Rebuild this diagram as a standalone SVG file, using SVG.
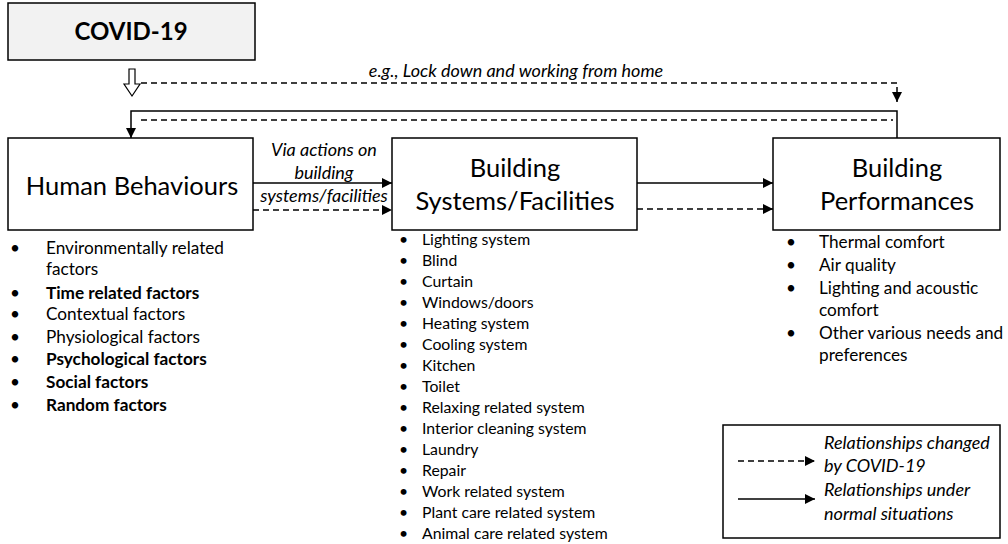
<svg xmlns="http://www.w3.org/2000/svg" width="1008" height="544" viewBox="0 0 1008 544">
<style>
text{font-family:Lato,"Open Sans","Liberation Sans",sans-serif;fill:#000}
.box{fill:#fff;stroke:#000;stroke-width:1.5}
.title{font-size:25.5px;text-anchor:middle}
.it{font-style:italic;font-size:18px}
.li{font-size:17.2px}
.b{font-weight:bold}
.sl{fill:none;stroke:#000;stroke-width:1.5}
.dl{fill:none;stroke:#000;stroke-width:1.5;stroke-dasharray:6,4}
</style>
<defs>
<marker id="ah" viewBox="0 0 10 10" refX="10" refY="5" markerWidth="10" markerHeight="10" markerUnits="userSpaceOnUse" orient="auto">
<path d="M0,0L10,5L0,10z" fill="#000"/>
</marker>
</defs>
<g id="covid">
<rect x="8" y="3" width="247" height="57" fill="#f2f2f2" stroke="#000" stroke-width="1.5"/>
<text x="131" y="40" class="b" font-size="24" text-anchor="middle">COVID-19</text>
</g>
<g id="human">
<rect class="box" x="8" y="138" width="245" height="92"/>
<text x="132" y="195" class="title">Human Behaviours</text>
<g class="li">
<text x="10" y="254">•</text><text x="46" y="254">Environmentally related</text>
<text x="46" y="275">factors</text>
<text x="10" y="299">•</text><text x="46" y="299" class="b">Time related factors</text>
<text x="10" y="320">•</text><text x="46" y="320">Contextual factors</text>
<text x="10" y="343">•</text><text x="46" y="343">Physiological factors</text>
<text x="10" y="365">•</text><text x="46" y="365" class="b">Psychological factors</text>
<text x="10" y="388">•</text><text x="46" y="388" class="b">Social factors</text>
<text x="10" y="411">•</text><text x="46" y="411" class="b">Random factors</text>
</g>
</g>
<g id="systems">
<rect class="box" x="392" y="138" width="245" height="92"/>
<text x="515" y="177" class="title">Building</text>
<text x="515" y="210" class="title">Systems/Facilities</text>
<g font-size="15.8px">
<text x="399" y="245">•</text><text x="422" y="245">Lighting system</text>
<text x="399" y="266">•</text><text x="422" y="266">Blind</text>
<text x="399" y="287">•</text><text x="422" y="287">Curtain</text>
<text x="399" y="308">•</text><text x="422" y="308">Windows/doors</text>
<text x="399" y="329">•</text><text x="422" y="329">Heating system</text>
<text x="399" y="350">•</text><text x="422" y="350">Cooling system</text>
<text x="399" y="371">•</text><text x="422" y="371">Kitchen</text>
<text x="399" y="392">•</text><text x="422" y="392">Toilet</text>
<text x="399" y="413">•</text><text x="422" y="413">Relaxing related system</text>
<text x="399" y="434">•</text><text x="422" y="434">Interior cleaning system</text>
<text x="399" y="455">•</text><text x="422" y="455">Laundry</text>
<text x="399" y="476">•</text><text x="422" y="476">Repair</text>
<text x="399" y="497">•</text><text x="422" y="497">Work related system</text>
<text x="399" y="518">•</text><text x="422" y="518">Plant care related system</text>
<text x="399" y="539">•</text><text x="422" y="539">Animal care related system</text>
</g>
</g>
<g id="performances">
<rect class="box" x="773" y="138" width="227" height="92"/>
<text x="897" y="177" class="title">Building</text>
<text x="897" y="210" class="title">Performances</text>
<g class="li">
<text x="786" y="248">•</text><text x="819" y="248">Thermal comfort</text>
<text x="786" y="271">•</text><text x="819" y="271">Air quality</text>
<text x="786" y="294">•</text><text x="819" y="294">Lighting and acoustic</text>
<text x="819" y="316">comfort</text>
<text x="786" y="339">•</text><text x="819" y="339">Other various needs and</text>
<text x="819" y="361">preferences</text>
</g>
</g>
<g id="legend">
<rect class="box" x="723" y="425" width="277" height="113"/>
<line class="dl" x1="738" y1="461" x2="815" y2="461" marker-end="url(#ah)"/>
<line class="sl" x1="738" y1="499" x2="815" y2="499" marker-end="url(#ah)"/>
<g class="it" font-size="19px">
<text x="824" y="449">Relationships changed</text>
<text x="824" y="472">by COVID-19</text>
<text x="824" y="496">Relationships under</text>
<text x="824" y="520">normal situations</text>
</g>
</g>
<g id="connectors">
<path d="M129,69h6v15h5l-8,12l-8,-12h5z" fill="#fff" stroke="#000" stroke-width="1.2"/>
<path class="dl" d="M141,83H897V102" marker-end="url(#ah)"/>
<text x="516" y="77" class="it" font-size="18.5px" text-anchor="middle">e.g., Lock down and working from home</text>
<path class="sl" d="M897,138V111H131V138" marker-end="url(#ah)"/>
<line class="dl" x1="141" y1="120" x2="893" y2="120"/>
<line class="sl" x1="253" y1="183" x2="392" y2="183" marker-end="url(#ah)"/>
<line class="dl" x1="253" y1="210" x2="392" y2="210" marker-end="url(#ah)"/>
<text x="324" y="156" class="it" text-anchor="middle">Via actions on</text>
<text x="324" y="179" class="it" text-anchor="middle">building</text>
<text x="324" y="202" class="it" text-anchor="middle">systems/facilities</text>
<line class="sl" x1="637" y1="183" x2="773" y2="183" marker-end="url(#ah)"/>
<line class="dl" x1="637" y1="209" x2="773" y2="209" marker-end="url(#ah)"/>
</g>
</svg>
